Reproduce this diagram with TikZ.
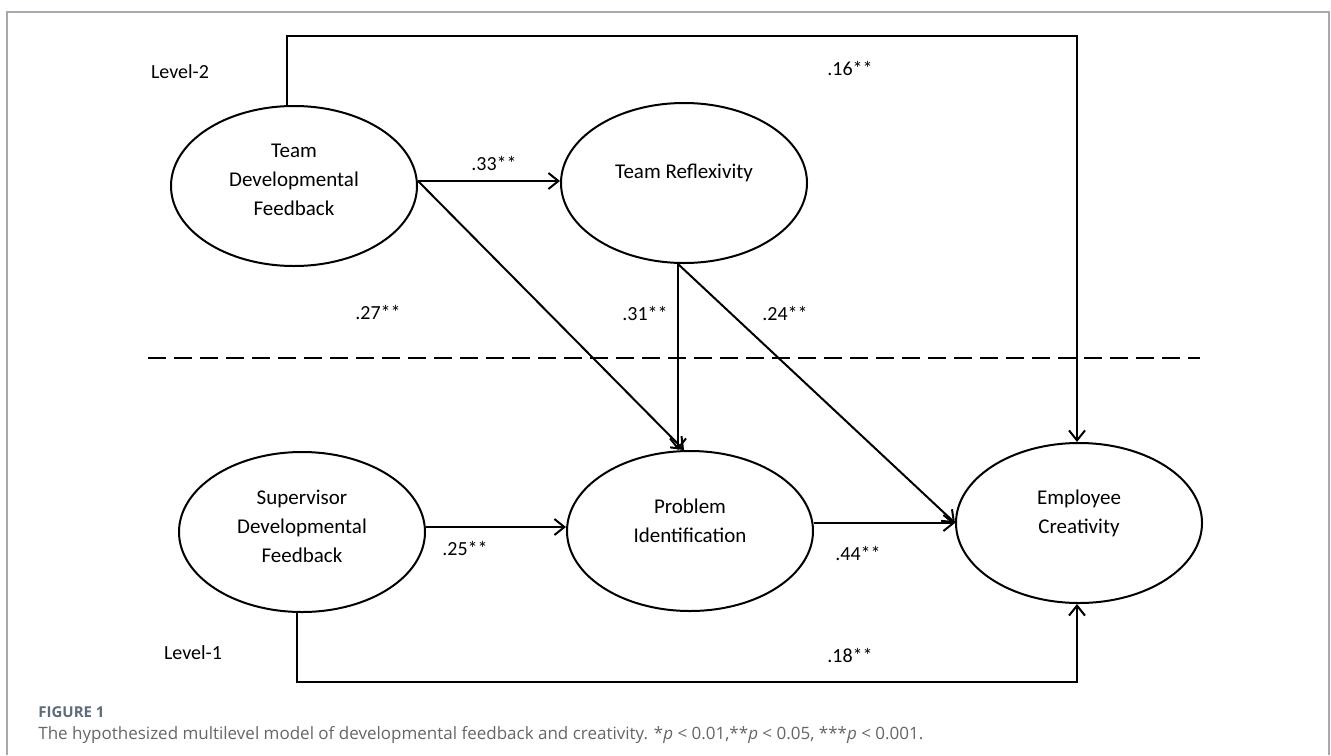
\documentclass[tikz,border=0pt]{standalone}
\usepackage{fontspec}
\setmainfont{Carlito}
\newfontfamily\capfont{Open Sans}
\usetikzlibrary{arrows.meta,calc,shapes.geometric}
\definecolor{framegray}{HTML}{A8A8B0}
\definecolor{figblue}{HTML}{5E6B7A}
\definecolor{capgray}{HTML}{666666}
\tikzset{
  ell/.style={draw, line width=1pt, ellipse, minimum width=123pt, minimum height=80pt, inner sep=0pt},
  txt/.style={align=center, font=\fontsize{10.5}{14.5}\selectfont, inner sep=0pt},
  lab/.style={font=\fontsize{10}{12}\selectfont, inner sep=0pt},
  conn/.style={line width=1pt},
  arr/.style={line width=1pt, -{Straight Barb[length=5pt,width=8pt,line width=1pt]}},
}
\begin{document}
\begin{tikzpicture}[x=0.5pt,y=-0.5pt]
\useasboundingbox (0,0) rectangle (1331,755);
% frame
\draw[framegray, line width=0.8pt] (7,755) -- (7,12) -- (1329,12) -- (1329,755);
% nodes
\node[ell] (tdf) at (294,186) {};
\node[txt] (tdft) at ([yshift=3pt]tdf.center) {Team\\Developmental\\Feedback};
\node[ell] (tr) at (684,183) {};
\node[txt] (trt) at ([yshift=5pt]tr.center) {Team Reflexivity};
\node[ell] (sdf) at (302,532) {};
\node[txt] (sdft) at ([yshift=3pt]sdf.center) {Supervisor\\Developmental\\Feedback};
\node[ell] (pi) at (690,531) {};
\node[txt] (pit) at ([yshift=5pt]pi.center) {Problem\\Identification};
\node[ell] (ec) at (1079,523) {};
\node[txt] (ect) at ([yshift=5pt]ec.center) {Employee\\Creativity};
% level labels
\node[lab] (l2) at (180,72) {Level-2};
\node[lab] (l1) at (193,653) {Level-1};
% dashed divider
\coordinate (dl) at (148,358);
\coordinate (dr) at (1200,358);
\draw[line width=1pt, dash pattern=on 9pt off 4pt] (dl) -- (dr);
% connectors
\coordinate (top) at (700,36);
\coordinate (bot) at (700,682);
\draw[arr] ([xshift=-3.5pt]tdf.north) |- (top) -| ([xshift=-1pt]ec.north);
\draw[arr] ([xshift=-2.5pt]sdf.south) |- (bot) -| ([xshift=-1pt]ec.south);
\draw[arr] ([yshift=2.5pt]tdf.east) -- ([yshift=2.5pt]tdf.east -| tr.west);
\draw[arr] ([yshift=2.5pt]tdf.east) -- ([xshift=-3pt]pi.north);
\draw[arr] ([xshift=-3pt]tr.south) -- ([xshift=-3pt]tr.south |- pi.north);
\draw[arr] ([xshift=-3pt]tr.south) -- (ec.west);
\draw[arr] ([yshift=2.5pt]sdf.east) -- ([yshift=2.5pt]sdf.east -| pi.west);
\draw[arr] (ec.west -| pi.east) -- (ec.west);
% coefficient labels
\node[lab] (c16) at (850,68) {.16**};
\node[lab] (c33) at (494,163) {.33**};
\node[lab] (c27) at (378,312) {.27**};
\node[lab] (c31) at (645,313) {.31**};
\node[lab] (c24) at (785,313) {.24**};
\node[lab] (c25) at (465,548) {.25**};
\node[lab] (c44) at (858,553) {.44**};
\node[lab] (c18) at (850,655) {.18**};
% caption
\node[anchor=west, inner sep=0pt, font=\capfont\bfseries\fontsize{7.5}{9}\selectfont, text=figblue] (fig) at (38,712) {FIGURE 1};
\node[anchor=west, inner sep=0pt, font=\capfont\fontsize{8.5}{10}\selectfont, text=capgray] (cap) at (38,735) {The hypothesized multilevel model of developmental feedback and creativity. *\emph{p} < 0.01,**\emph{p} < 0.05, ***\emph{p} < 0.001.};
\end{tikzpicture}
\end{document}
